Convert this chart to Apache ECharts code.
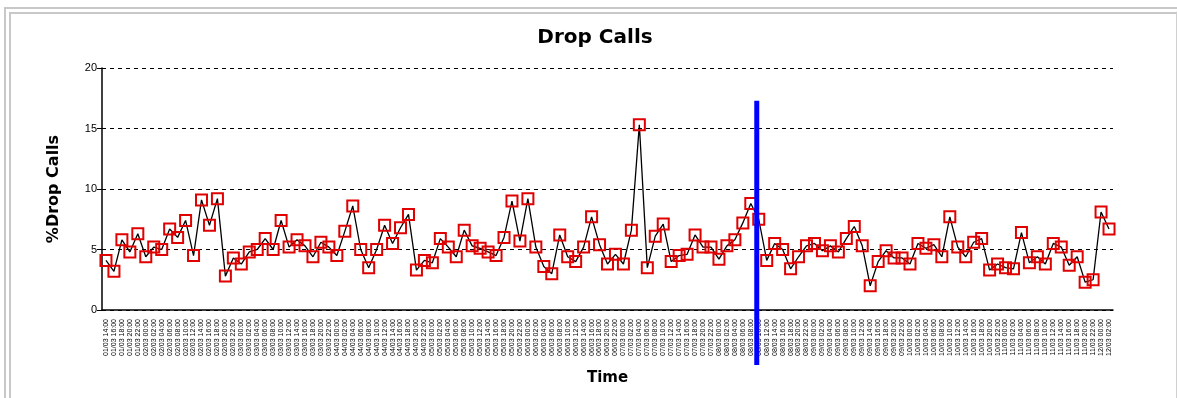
<!DOCTYPE html>
<html>
<head>
<meta charset="utf-8">
<title>Drop Calls</title>
<script src="https://cdn.jsdelivr.net/npm/echarts@6/dist/echarts.min.js"></script>
<style>
  html, body { margin: 0; padding: 0; background: #fff; }
  #frame {
    position: absolute; left: 4px; top: 7px; width: 1165px; height: 400px;
    border-top: 7px double #c8c8c8; border-left: 7px double #c8c8c8;
    border-right: 2px solid #d0d0d0;
  }
  #main { position: absolute; left: 0; top: 0; width: 1177px; height: 398px; }
</style>
</head>
<body>
<div id="frame"></div>
<div id="main"></div>
<script>
// % drop calls per sample
var dropCalls = [
    4.1, 3.2, 5.8, 4.8, 6.3, 4.4, 5.2, 5.0, 6.7, 6.0,
    7.4, 4.5, 9.1, 7.0, 9.2, 2.8, 4.3, 3.8, 4.8, 5.0,
    5.9, 5.0, 7.4, 5.2, 5.8, 5.3, 4.4, 5.6, 5.2, 4.5,
    6.5, 8.6, 5.0, 3.5, 5.0, 7.0, 5.5, 6.8, 7.9, 3.3,
    4.1, 3.9, 5.9, 5.2, 4.4, 6.6, 5.3, 5.1, 4.8, 4.5,
    6.0, 9.0, 5.7, 9.2, 5.2, 3.6, 3.0, 6.2, 4.4, 4.0,
    5.2, 7.7, 5.4, 3.8, 4.6, 3.8, 6.6, 15.3, 3.5, 6.1,
    7.1, 4.0, 4.5, 4.6, 6.2, 5.2, 5.2, 4.2, 5.3, 5.8,
    7.2, 8.8, 7.5, 4.1, 5.5, 5.0, 3.4, 4.4, 5.3, 5.5,
    4.9, 5.3, 4.8, 5.9, 6.9, 5.3, 2.0, 4.0, 4.9, 4.3,
    4.3, 3.8, 5.5, 5.1, 5.4, 4.4, 7.7, 5.2, 4.4, 5.6,
    5.9, 3.3, 3.8, 3.5, 3.4, 6.4, 3.9, 4.4, 3.8, 5.5,
    5.2, 3.7, 4.4, 2.3, 2.5, 8.1, 6.7
];

var yTicks = [0, 5, 10, 15, 20];

// time stamps, one every 2 hours
var timeLabels = [];
var t0 = new Date(2009, 2, 1, 14, 0);
function pad(n) { return (n < 10 ? "0" : "") + n; }
for (var i = 0; i < dropCalls.length; i++) {
    var d = new Date(t0.getTime() + i * 2 * 3600 * 1000);
    timeLabels.push(pad(d.getDate()) + "/" + pad(d.getMonth() + 1) + " " + pad(d.getHours()) + ":00");
}

// position of the blue cursor, in samples
var CURSOR_INDEX = 81.75;
var CURSOR_TOP = 17.3;

var BOLD_FONT = "DejaVu Sans, Verdana, sans-serif";

var chart = echarts.init(document.getElementById("main"));

var option = {
    animation: false,
    textStyle: { fontFamily: "Liberation Sans, Arial, sans-serif", color: "#000" },
    title: {
        text: "Drop Calls",
        left: 590, top: 23, textAlign: "center",
        textStyle: { fontSize: 20, fontWeight: "bold", fontFamily: BOLD_FONT, color: "#000" }
    },
    grid: { left: 102, right: 64, top: 68, bottom: 88 },
    xAxis: {
        type: "category",
        data: timeLabels,
        boundaryGap: true,
        name: "Time",
        nameLocation: "middle",
        nameGap: 61,
        nameTextStyle: { fontSize: 15, fontWeight: "bold", fontFamily: BOLD_FONT, color: "#000" },
        axisLine: { lineStyle: { color: "#000", width: 1.5 } },
        axisTick: { interval: 0, alignWithLabel: true, length: 6, lineStyle: { color: "#000" } },
        axisLabel: { interval: 0, rotate: 90, fontSize: 7, margin: 9, color: "#000" },
        splitLine: { show: false }
    },
    yAxis: {
        type: "value",
        min: yTicks[0],
        max: yTicks[yTicks.length - 1],
        interval: 5,
        name: "%Drop Calls",
        nameLocation: "middle",
        nameGap: 40,
        nameTextStyle: { fontSize: 16, fontWeight: "bold", fontFamily: BOLD_FONT, color: "#000" },
        axisLine: { show: true, lineStyle: { color: "#000", width: 1.5 } },
        axisTick: { show: true, length: 5, lineStyle: { color: "#000" } },
        axisLabel: { fontSize: 11, margin: 5, color: "#000" },
        splitLine: { lineStyle: { color: "#000", type: [4, 4], width: 1 } }
    },
    series: [{
        type: "line",
        data: dropCalls,
        symbol: "rect",
        symbolSize: 11,
        showAllSymbol: true,
        lineStyle: { color: "#000", width: 1.3 },
        itemStyle: { color: "rgba(255,255,255,0)", borderColor: "#e00000", borderWidth: 2 }
    }]
};

chart.setOption(option);

// blue cursor line, placed through the axes
var i0 = Math.floor(CURSOR_INDEX);
var xa = chart.convertToPixel({ xAxisIndex: 0 }, i0);
var xb = chart.convertToPixel({ xAxisIndex: 0 }, i0 + 1);
var cx = xa + (xb - xa) * (CURSOR_INDEX - i0);
var cyTop = chart.convertToPixel({ yAxisIndex: 0 }, CURSOR_TOP);
var cyBottom = chart.convertToPixel({ yAxisIndex: 0 }, 0) + 55;
chart.setOption({
    graphic: [{
        type: "rect",
        shape: { x: cx - 2.5, y: cyTop, width: 5, height: cyBottom - cyTop },
        style: { fill: "#0000ff" },
        z: 100
    }]
});
</script>
</body>
</html>
